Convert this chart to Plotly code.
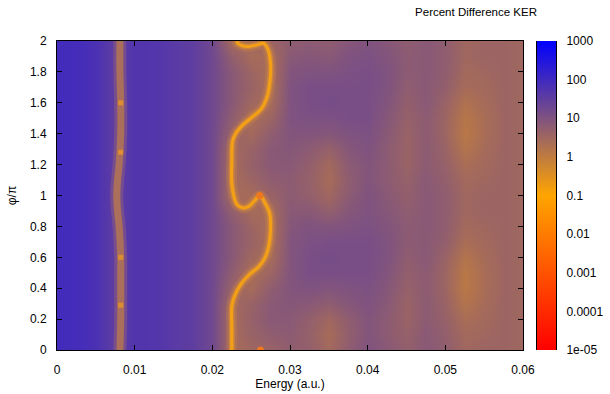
import math
import plotly.graph_objects as go

# ---------------- data (log10 of percent difference) ----------------
ENERGY = [0.0, 0.0025, 0.005, 0.0075, 0.01, 0.0125, 0.015, 0.0175, 0.02,
          0.0225, 0.025, 0.0275, 0.03, 0.0325, 0.035, 0.0375, 0.04, 0.0425,
          0.045, 0.0475, 0.05, 0.0525, 0.055, 0.0575, 0.06]
PHI = [0.0, 0.1, 0.2, 0.3, 0.4, 0.5, 0.6, 0.7, 0.8, 0.9, 1.0,
       1.1, 1.2, 1.3, 1.4, 1.5, 1.6, 1.7, 1.8, 1.9, 2.0]

# columns E = 0 ... 0.02 (no phi dependence)
LOG_LEFT = [1.95, 1.92, 1.82, 1.5, 1.72, 1.7, 1.6, 1.5, 1.25]
# columns E = 0.0225 ... 0.06, one row per phi value
LOG_RIGHT = [
    [0.40, 0.50, 0.60, 0.75, 0.70, 0.45, 0.75, 1.00, 0.85, 0.70, 0.85, 0.75, 0.50, 0.55, 0.55, 0.50],
    [0.40, 0.60, 0.75, 0.80, 0.65, 0.40, 0.70, 0.95, 0.80, 0.65, 0.85, 0.70, 0.45, 0.50, 0.55, 0.50],
    [0.40, 0.65, 0.85, 0.85, 0.70, 0.50, 0.75, 0.95, 0.80, 0.60, 0.80, 0.65, 0.35, 0.45, 0.55, 0.50],
    [0.45, 0.60, 0.85, 0.90, 0.85, 0.75, 0.90, 1.00, 0.85, 0.60, 0.80, 0.60, 0.20, 0.40, 0.55, 0.50],
    [0.60, 0.40, 0.75, 0.95, 1.00, 0.95, 1.00, 1.05, 0.90, 0.65, 0.80, 0.55, 0.10, 0.35, 0.55, 0.50],
    [0.75, 0.35, 0.55, 0.95, 1.10, 1.10, 1.10, 1.10, 0.95, 0.70, 0.80, 0.55, 0.10, 0.35, 0.55, 0.50],
    [0.85, 0.50, 0.40, 0.95, 1.10, 1.15, 1.10, 1.10, 1.00, 0.75, 0.85, 0.60, 0.20, 0.40, 0.55, 0.50],
    [0.85, 0.60, 0.35, 0.95, 1.05, 1.10, 1.10, 1.10, 1.00, 0.80, 0.85, 0.70, 0.35, 0.45, 0.55, 0.50],
    [0.85, 0.55, 0.35, 0.90, 1.00, 0.95, 1.00, 1.05, 0.95, 0.80, 0.85, 0.75, 0.45, 0.50, 0.55, 0.50],
    [0.70, 0.40, 0.40, 0.85, 0.85, 0.70, 0.90, 1.00, 0.90, 0.75, 0.85, 0.75, 0.50, 0.55, 0.55, 0.50],
    [0.40, 0.40, 0.60, 0.80, 0.70, 0.50, 0.80, 1.00, 0.85, 0.70, 0.85, 0.75, 0.50, 0.55, 0.55, 0.50],
    [0.40, 0.55, 0.75, 0.80, 0.65, 0.40, 0.75, 0.95, 0.80, 0.65, 0.85, 0.70, 0.45, 0.50, 0.55, 0.50],
    [0.40, 0.65, 0.85, 0.85, 0.70, 0.45, 0.80, 0.95, 0.80, 0.60, 0.80, 0.65, 0.35, 0.45, 0.55, 0.50],
    [0.45, 0.60, 0.85, 0.90, 0.80, 0.65, 0.90, 1.00, 0.80, 0.60, 0.80, 0.60, 0.20, 0.40, 0.55, 0.50],
    [0.60, 0.45, 0.75, 0.95, 0.95, 0.90, 1.00, 1.05, 0.85, 0.60, 0.80, 0.55, 0.10, 0.35, 0.55, 0.50],
    [0.75, 0.35, 0.55, 1.00, 1.05, 1.05, 1.10, 1.10, 0.90, 0.65, 0.80, 0.55, 0.15, 0.35, 0.55, 0.50],
    [0.85, 0.50, 0.40, 1.00, 1.10, 1.15, 1.10, 1.10, 0.95, 0.70, 0.85, 0.60, 0.25, 0.40, 0.55, 0.50],
    [0.85, 0.60, 0.35, 1.00, 1.10, 1.10, 1.10, 1.10, 1.00, 0.75, 0.85, 0.70, 0.40, 0.45, 0.55, 0.50],
    [0.85, 0.55, 0.35, 0.95, 1.00, 1.00, 1.05, 1.10, 1.00, 0.80, 0.85, 0.75, 0.45, 0.50, 0.55, 0.50],
    [0.70, 0.40, 0.40, 0.85, 0.90, 0.85, 1.00, 1.05, 0.95, 0.80, 0.85, 0.75, 0.50, 0.55, 0.55, 0.50],
    [0.40, 0.50, 0.60, 0.75, 0.80, 0.75, 0.90, 1.00, 0.90, 0.75, 0.85, 0.75, 0.50, 0.55, 0.55, 0.50],
]

# the minimum curve (percent difference ~0.1) around E = 0.022 ... 0.028
CURVE_E = [0.0225, 0.0225, 0.0225, 0.0228, 0.0236, 0.0248, 0.0260, 0.0268, 0.0273,
           0.0275, 0.0274, 0.0268, 0.0261, 0.0255, 0.0247, 0.0239, 0.0232, 0.0228,
           0.0225, 0.0225, 0.0226, 0.0230, 0.0240, 0.0252, 0.0263, 0.0270, 0.0274,
           0.0275, 0.0272, 0.0266, 0.0257, 0.0247, 0.0238, 0.0233, 0.0232]
CURVE_PHI = [0.00, 0.15, 0.28, 0.34, 0.42, 0.49, 0.54, 0.60, 0.68,
             0.78, 0.88, 0.95, 1.00, 0.97, 0.93, 0.92, 0.94, 0.99,
             1.08, 1.22, 1.35, 1.40, 1.46, 1.51, 1.56, 1.63, 1.73,
             1.85, 1.94, 1.985, 1.975, 1.965, 1.97, 1.985, 2.00]
CURVE_SPOT_E = [0.0261, 0.0262]
CURVE_SPOT_PHI = [1.00, 0.00]

# the narrow stripe near E = 0.008
STRIPE_E = [0.0081, 0.0082, 0.0082, 0.0082, 0.0080, 0.0078, 0.0077, 0.0078,
            0.0080, 0.0082, 0.0082, 0.0081, 0.0081]
STRIPE_PHI = [0.0, 0.2, 0.4, 0.6, 0.8, 0.9, 1.0, 1.1, 1.2, 1.4, 1.6, 1.8, 2.0]
STRIPE_SPOT_E = [0.0082, 0.0082, 0.0082, 0.0082]
STRIPE_SPOT_PHI = [0.29, 0.60, 1.28, 1.60]

X_TICKS = [0, 0.01, 0.02, 0.03, 0.04, 0.05, 0.06]
X_TICK_TEXT = ["0", "0.01", "0.02", "0.03", "0.04", "0.05", "0.06"]
Y_TICKS = [0, 0.2, 0.4, 0.6, 0.8, 1.0, 1.2, 1.4, 1.6, 1.8, 2.0]
Y_TICK_TEXT = ["0", "0.2", "0.4", "0.6", "0.8", "1", "1.2", "1.4", "1.6", "1.8", "2"]
CB_TICKS = [-5, -4, -3, -2, -1, 0, 1, 2, 3]
CB_TICK_TEXT = ["1e-05", "0.0001", "0.001", "0.01", "0.1", "1", "10", "100", "1000"]

# ---------------- figure ----------------
z = [LOG_LEFT + row for row in LOG_RIGHT]

FONT = dict(family="Liberation Sans, Arial, sans-serif", size=12, color="black")
TITLE_FONT = dict(family="Liberation Sans, Arial, sans-serif", size=11.5, color="black")
SCALE = [[0.0, "rgb(255,0,0)"], [0.5, "rgb(255,165,0)"], [1.0, "rgb(0,0,255)"]]

W, H = 610, 394
L, R, T, B = 57, 54, 41, 44
pw = W - L - R
x_main_end = (523 - L) / pw
cb_left = (537 - L) / pw

fig = go.Figure()
fig.add_trace(go.Heatmap(
    x=ENERGY, y=PHI, z=z, zmin=-5, zmax=3, zsmooth="best",
    colorscale=SCALE, hoverinfo="skip",
    colorbar=dict(x=cb_left, xanchor="left", xref="paper", xpad=0, ypad=0,
                  y=0.5, yanchor="middle", len=1, lenmode="fraction",
                  thickness=19, thicknessmode="pixels", outlinewidth=0,
                  ticks="", showticklabels=False),
))

# stripe near 0.008
fig.add_trace(go.Scatter(x=STRIPE_E, y=STRIPE_PHI, mode="lines", hoverinfo="skip",
                         line=dict(color="rgba(150,100,115,0.45)", width=13, shape="spline"),
                         showlegend=False))
fig.add_trace(go.Scatter(x=STRIPE_E, y=STRIPE_PHI, mode="lines", hoverinfo="skip",
                         line=dict(color="rgba(180,118,82,0.85)", width=7, shape="spline"),
                         showlegend=False))
fig.add_trace(go.Scatter(x=STRIPE_SPOT_E, y=STRIPE_SPOT_PHI, mode="markers", hoverinfo="skip",
                         marker=dict(symbol="square", size=5, color="rgb(222,142,48)"),
                         showlegend=False))

# minimum curve
for width, color in [(11, "rgba(215,140,60,0.25)"), (6, "rgba(235,152,40,0.45)"),
                     (3, "rgb(243,160,22)")]:
    fig.add_trace(go.Scatter(x=CURVE_E, y=CURVE_PHI, mode="lines", hoverinfo="skip",
                             line=dict(color=color, width=width, shape="spline"),
                             showlegend=False))
fig.add_trace(go.Scatter(x=CURVE_SPOT_E, y=CURVE_SPOT_PHI, mode="markers", hoverinfo="skip",
                         marker=dict(symbol="circle", size=7, color="rgb(238,120,30)"),
                         showlegend=False))

# axis used for the colour-box ticks and labels
fig.add_trace(go.Scatter(x=[0, 1], y=[-5, 3], xaxis="x2", yaxis="y2", mode="markers",
                         marker=dict(opacity=0), hoverinfo="skip", showlegend=False))

minor_vals = [n + math.log10(k) for n in range(-5, 3) for k in range(2, 10)]

fig.update_layout(
    width=W, height=H, margin=dict(l=L, r=R, t=T, b=B),
    paper_bgcolor="white", plot_bgcolor="white", font=FONT,
    showlegend=False,
    title=dict(text="Percent Difference KER", x=476 / W, xanchor="center",
               xref="container", y=1 - 12 / H, yanchor="middle", yref="container",
               font=TITLE_FONT),
    xaxis=dict(domain=[0, x_main_end], range=[0, 0.06], tickvals=X_TICKS,
               ticktext=X_TICK_TEXT, ticks="inside", ticklen=5, tickcolor="black",
               showline=True, linecolor="black", linewidth=1, mirror="ticks",
               showgrid=False, zeroline=False, automargin=False,
               ticklabelstandoff=9,
               title=dict(text="Energy (a.u.)", standoff=3, font=FONT)),
    yaxis=dict(range=[0, 2], tickvals=Y_TICKS, ticktext=Y_TICK_TEXT, ticks="inside",
               ticklen=5, tickcolor="black", showline=True, linecolor="black",
               linewidth=1, mirror="ticks", showgrid=False, zeroline=False,
               automargin=False, ticklabelstandoff=7,
               title=dict(text="φ/π", standoff=10, font=FONT)),
    xaxis2=dict(domain=[cb_left, 1], range=[0, 1], anchor="y2", visible=False,
                fixedrange=True),
    yaxis2=dict(anchor="x2", range=[-5, 3], side="right", tickvals=CB_TICKS,
                ticktext=CB_TICK_TEXT, ticks="inside", ticklen=5, tickcolor="black",
                showline=True, linecolor="black", linewidth=1, mirror="ticks",
                showgrid=False, zeroline=False, automargin=False,
                ticklabelstandoff=7,
                minor=dict(tickvals=minor_vals, ticks="inside", ticklen=3,
                           tickcolor="black", showgrid=False)),
)

fig.write_html("out.html")
